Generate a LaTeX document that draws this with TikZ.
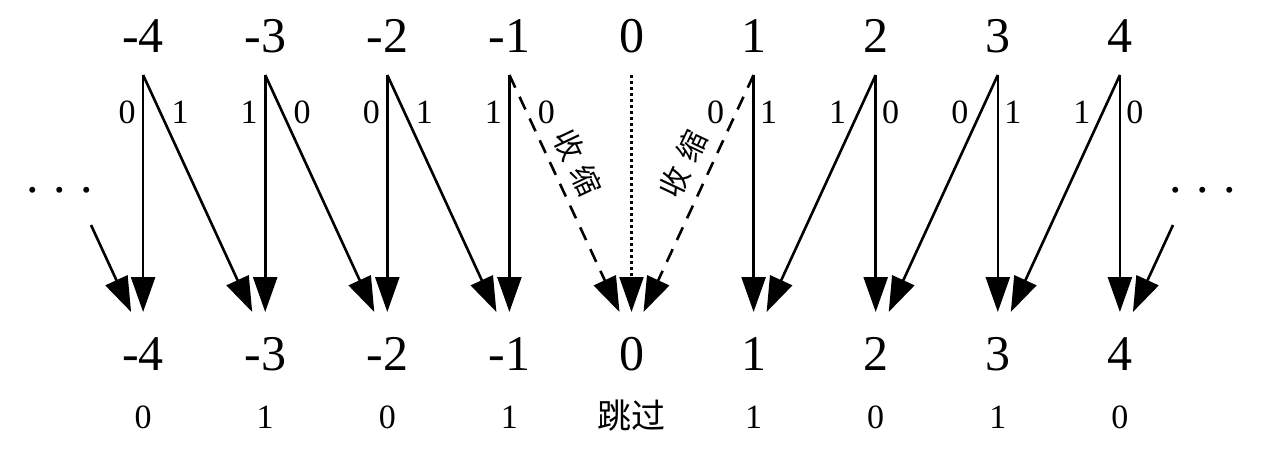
\documentclass[tikz,border=0pt]{standalone}
\usepackage{fontspec}
\setmainfont{Liberation Serif}
\newfontfamily\tnr{Liberation Serif}
\newfontfamily\cjk{Noto Sans CJK SC}
\usetikzlibrary{arrows.meta}
\begin{document}
\begin{tikzpicture}[x=1pt,y=-1pt,
  big/.style={font=\tnr\fontsize{50}{60}\selectfont, inner sep=0pt, anchor=base},
  bit/.style={font=\tnr\fontsize{34}{40}\selectfont, inner sep=0pt, anchor=base},
  lab/.style={font=\tnr\fontsize{34}{40}\selectfont, inner sep=0pt},
  cjklab/.style={font=\cjk\fontsize{30}{36}\selectfont, inner sep=0pt},
  arr/.style={line width=2.6pt, -{Triangle[length=35pt,width=24pt]}},
  dsh/.style={arr, dash pattern=on 14pt off 10pt},
  dtt/.style={arr, line width=2.2pt, dash pattern=on 3pt off 3pt}]
\useasboundingbox (0,0) rectangle (1277,449);
\foreach \i/\n/\b in {0/-4/0,1/-3/1,2/-2/0,3/-1/1,4/0/{\cjk 跳过},5/1/1,6/2/0,7/3/1,8/4/0}{
  \pgfmathsetmacro\cx{143.1+122.1*\i}
  \node[big] (t\i) at (\cx,53) {\n};
  \node[big] (b\i) at (\cx,370) {\n};
  \node[bit] (s\i) at (\cx,428) {\b};
  \coordinate (a\i) at (\cx,75);
  \coordinate (e\i) at (\cx,312);
}
% vertical arrows
\foreach \i in {0,1,2,3,5,6,7,8}{\draw[arr] (a\i) -- (e\i);}
\draw[dtt] (a4) -- (e4);
% diagonals, negative side
\foreach \i/\j in {0/1,1/2,2/3}{\draw[arr] (a\i) -- ([xshift=-13pt]e\j);}
\draw[dsh] (a3) -- ([xshift=-12pt]e4);
% diagonals, positive side
\foreach \i/\j in {6/5,7/6,8/7}{\draw[arr] (a\i) -- ([xshift=13pt]e\j);}
\draw[dsh] (a5) -- ([xshift=12pt]e4);
% incoming stubs
\coordinate (ls) at (91,225);
\coordinate (rs) at (1173,225);
\draw[arr] (ls) -- ([xshift=-12pt]e0);
\draw[arr] (rs) -- ([xshift=13pt]e8);
% ellipses
\node[big] (ldots) at (60,193) {.\hspace{14.5pt}.\hspace{14.5pt}.};
\node[big] (rdots) at (1203,193) {.\hspace{14.5pt}.\hspace{14.5pt}.};
% edge labels, negative side
\foreach \i/\l/\r in {0/0/1,1/1/0,2/0/1,3/1/0}{
  \pgfmathsetmacro\cx{143.1+122.1*\i}
  \node[lab] (ll\i) at (\cx-16,112) {\l};
  \node[lab] (lr\i) at (\cx+37,112) {\r};
}
% edge labels, positive side
\foreach \i/\l/\r in {5/0/1,6/1/0,7/0/1,8/1/0}{
  \pgfmathsetmacro\cx{143.1+122.1*\i}
  \node[lab] (ll\i) at (\cx-38,112) {\l};
  \node[lab] (lr\i) at (\cx+15,112) {\r};
}
\node[cjklab, rotate=-64.7] (sl) at (578,163) {收\hspace{9pt}缩};
\node[cjklab, rotate=64.7] (sr) at (683,164) {收\hspace{9pt}缩};
\end{tikzpicture}
\end{document}
